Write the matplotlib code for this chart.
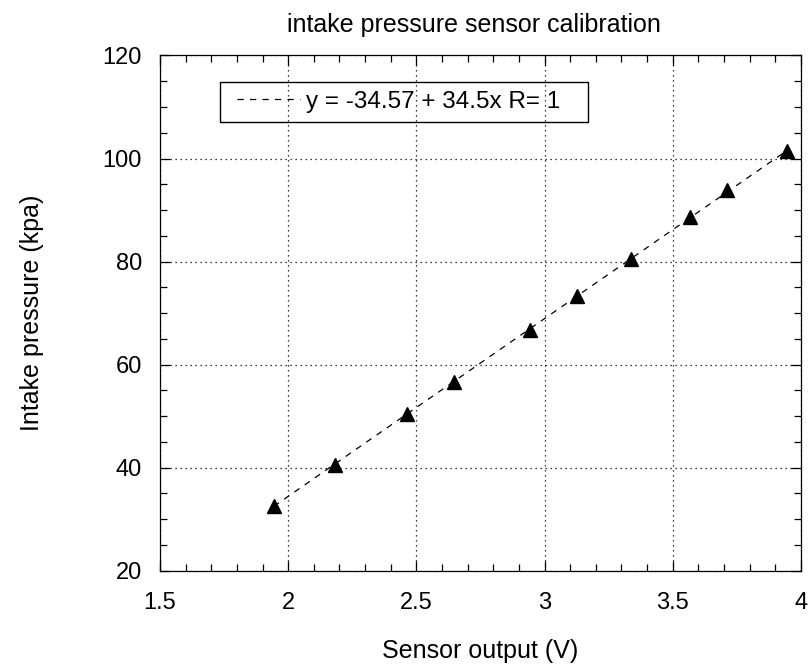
import matplotlib
matplotlib.use("Agg")
import matplotlib.pyplot as plt
from matplotlib.ticker import MultipleLocator
from matplotlib.patches import Rectangle
import numpy as np

sensor_v = [1.944, 2.182, 2.464, 2.647, 2.945, 3.128, 3.338, 3.568, 3.711, 3.945]
pressure_kpa = [32.6, 40.5, 50.4, 56.7, 66.8, 73.4, 80.5, 88.6, 93.8, 101.5]
fit_intercept = -34.57
fit_slope = 34.5
fit_label = "y = -34.57 + 34.5x R= 1"
x_ticks = [1.5, 2, 2.5, 3, 3.5, 4]
x_tick_labels = ['1.5', '2', '2.5', '3', '3.5', '4']

plt.rcParams['font.family'] = ['Liberation Sans', 'DejaVu Sans']

fig = plt.figure(figsize=(8.09, 6.67), dpi=100)
ax = fig.add_axes([0.1978, 0.1444, 0.7922, 0.7724])

xs = np.array([min(sensor_v), max(sensor_v)])
ax.plot(xs, fit_intercept + fit_slope * xs, color='black', linestyle=(0, (5, 5)),
        linewidth=0.9, label=fit_label)
ax.plot(sensor_v, pressure_kpa, linestyle='none', marker='^', color='black',
        markersize=9.5)

ax.set_xlim(1.5, 4)
ax.set_ylim(20, 120)
ax.set_xticks(x_ticks)
ax.set_xticklabels(x_tick_labels)
ax.xaxis.set_minor_locator(MultipleLocator(0.1))
ax.yaxis.set_major_locator(MultipleLocator(20))
ax.yaxis.set_minor_locator(MultipleLocator(5))
ax.tick_params(which='both', direction='in', top=True, right=True, labelsize=17, color='black')
ax.tick_params(axis='x', which='major', length=7, width=0.9, pad=15)
ax.tick_params(axis='y', which='major', length=7, width=0.9, pad=13)
ax.tick_params(which='minor', length=5, width=0.9)
ax.grid(True, which='major', color='black', linestyle=(0, (1, 3)), linewidth=0.9)
for s in ax.spines.values():
    s.set_linewidth(0.9)

ax.set_title("intake pressure sensor calibration", fontsize=18, pad=17, x=0.49)
ax.set_xlabel("Sensor output (V)", fontsize=18, labelpad=18)
ax.set_ylabel("Intake pressure (kpa)", fontsize=18, labelpad=42)

# legend box (frame drawn separately to get the wide horizontal padding)
ax.add_patch(Rectangle((0.0936, 0.8710), 0.574, 0.0776, transform=ax.transAxes,
                       facecolor='none', edgecolor='black', linewidth=1.0, zorder=5))
leg = ax.legend(loc='center left', bbox_to_anchor=(0.120, 0.910), borderaxespad=0,
                fontsize=17.5, frameon=False,
                handlelength=2.6, borderpad=0, handletextpad=0.25)

fig.savefig("out.png", dpi=100)
